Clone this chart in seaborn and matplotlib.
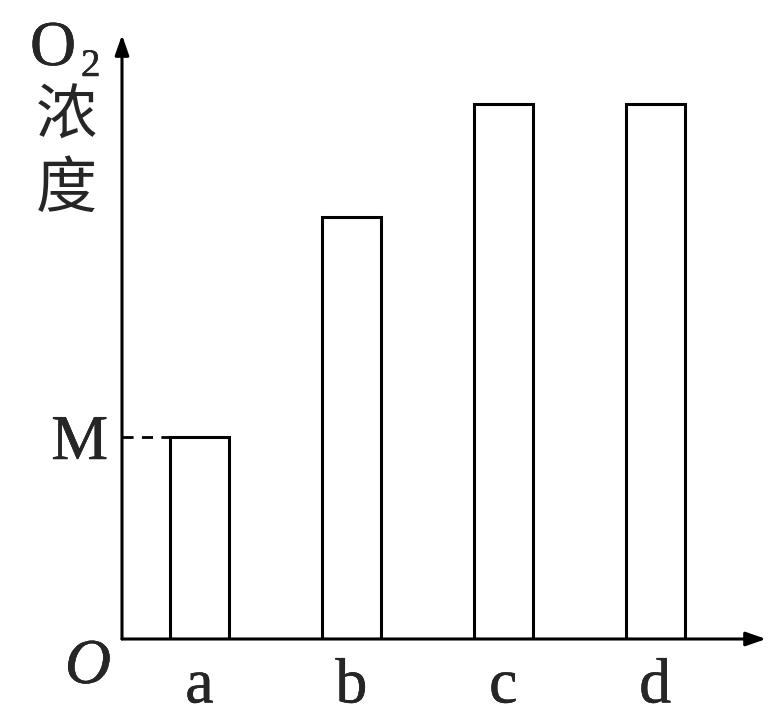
import matplotlib
matplotlib.use("Agg")
import matplotlib.pyplot as plt
import matplotlib.patheffects as pe
import seaborn as sns
import pandas as pd

categories = ["a", "b", "c", "d"]
values = [2.02, 4.22, 5.35, 5.35]
m_label = "M"

sns.set_theme(style="white")
plt.rcParams['font.family'] = ['Liberation Serif', 'Noto Sans CJK SC', 'DejaVu Sans']

df = pd.DataFrame({"cat": categories, "val": values})

fig = plt.figure(figsize=(7.74, 7.20), dpi=100)
ax = fig.add_axes([122/774, 1 - 639/720, (766 - 122)/774, (639 - 35)/720])

sns.barplot(data=df, x="cat", y="val", ax=ax, color="white", edgecolor="black",
            linewidth=2.2, width=0.39, saturation=1)

ax.set_xlim(-0.51, 3.73)
ax.set_ylim(0, 6.04)
for s in ax.spines.values():
    s.set_visible(False)

# axes with arrows
ax.annotate("", xy=(1.0, 0), xytext=(0, 0), xycoords="axes fraction",
            arrowprops=dict(arrowstyle="-|>,head_length=1.0,head_width=0.35", lw=2.2, color="black",
                            shrinkA=0, shrinkB=0), annotation_clip=False)
ax.annotate("", xy=(0, 1.0), xytext=(0, 0), xycoords="axes fraction",
            arrowprops=dict(arrowstyle="-|>,head_length=1.0,head_width=0.35", lw=2.2, color="black",
                            shrinkA=0, shrinkB=0), annotation_clip=False)

# dashed reference line to bar a
ax.hlines(values[0], -0.51, 0 - 0.39/2, colors="black", linestyles=(0, (4, 3)), lw=2.0)

thick = [pe.withStroke(linewidth=0.3, foreground="black")]

ax.set_xlabel("")
ax.set_ylabel("")
ax.set_xticks(range(len(categories)))
ax.set_xticklabels(categories, fontsize=46, fontfamily="Liberation Serif")
ax.set_yticks([values[0]])
ax.set_yticklabels([m_label], fontsize=46, fontfamily="Liberation Serif")
ax.tick_params(axis="x", length=0, pad=14)
ax.tick_params(axis="y", length=0, pad=10)
for t in ax.get_xticklabels() + ax.get_yticklabels():
    t.set_path_effects(thick)

# origin label
fig.text(88/774, 1 - 668/720, "O", fontsize=46, fontstyle="italic", fontfamily="Liberation Serif",
         ha="center", va="center", path_effects=thick)

# y label: O2 浓度
fig.text(30/774, 1 - 65/720, "O", fontsize=46, fontfamily="Liberation Serif", ha="left",
         va="baseline", path_effects=thick)
fig.text(81/774, 1 - 76/720, "2", fontsize=28, fontfamily="Liberation Serif", ha="left",
         va="baseline", path_effects=thick)
fig.text(66/774, 1 - 117/720, "浓", fontsize=44, fontfamily="Noto Sans CJK SC", ha="center", va="center")
fig.text(66/774, 1 - 190/720, "度", fontsize=44, fontfamily="Noto Sans CJK SC", ha="center", va="center")

fig.savefig("out.png", dpi=100)
